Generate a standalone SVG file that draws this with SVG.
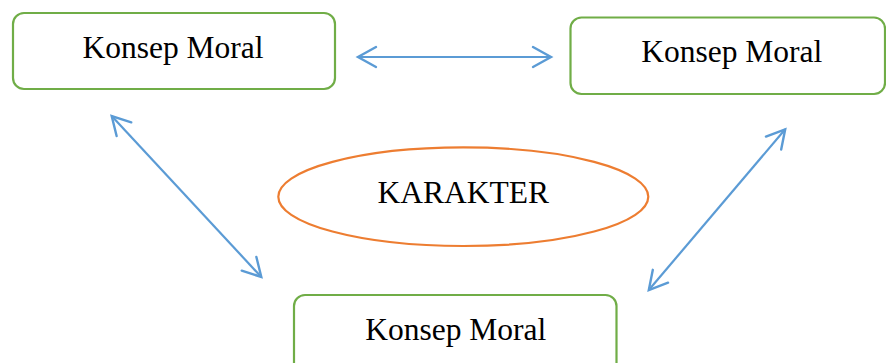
<svg xmlns="http://www.w3.org/2000/svg" width="886" height="363" viewBox="0 0 886 363">
<style>
.box{fill:#fff;stroke:#70AD47;stroke-width:2.2}
.ell{fill:#fff;stroke:#ED7D31;stroke-width:2.2}
.lbl{font-family:"Liberation Serif","Times New Roman",serif;font-size:31.5px;fill:#000;text-anchor:middle}
.conn{stroke:#5B9BD5;stroke-width:2.2;fill:none;marker-start:url(#arr);marker-end:url(#arr)}
</style>
<defs>
<marker id="arr" markerUnits="userSpaceOnUse" viewBox="-22 -13 24 26" refX="0" refY="0" markerWidth="24" markerHeight="26" orient="auto-start-reverse" overflow="visible">
<path d="M-18,-10 L0,0 L-18,10" fill="none" stroke="#5B9BD5" stroke-width="2.4" stroke-linecap="round" stroke-linejoin="miter"/>
</marker>
</defs>
<rect width="886" height="363" fill="#fff"/>
<g id="connectors">
<line class="conn" x1="358" y1="57" x2="551" y2="57"/>
<line class="conn" x1="111.7" y1="116" x2="261.3" y2="277"/>
<line class="conn" x1="648.8" y1="290" x2="785.2" y2="129.3"/>
</g>
<g id="node-top-left">
<rect class="box" x="13" y="13" width="322" height="76" rx="11"/>
<text class="lbl" x="173" y="58">Konsep Moral</text>
</g>
<g id="node-top-right">
<rect class="box" x="570.5" y="17.5" width="314.5" height="76.5" rx="11"/>
<text class="lbl" x="731.7" y="62">Konsep Moral</text>
</g>
<g id="node-center">
<ellipse class="ell" cx="463.3" cy="196.7" rx="185" ry="49.3"/>
<text class="lbl" x="463.3" y="203">KARAKTER</text>
</g>
<g id="node-bottom">
<rect class="box" x="294" y="295" width="322.5" height="80" rx="11"/>
<text class="lbl" x="455.8" y="340">Konsep Moral</text>
</g>
</svg>
